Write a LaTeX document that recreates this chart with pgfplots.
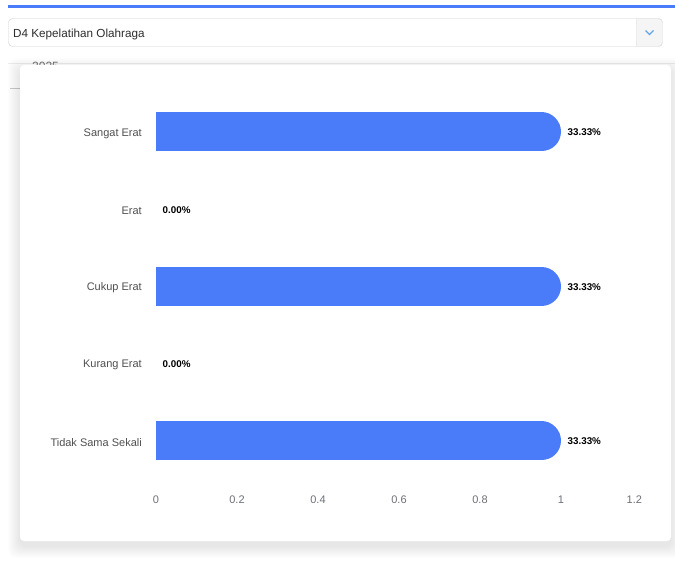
\documentclass[border=0pt]{standalone}
\usepackage{pgfplots}
\pgfplotsset{compat=1.18}
\usepackage{fontspec}
\setmainfont{Liberation Sans}

\definecolor{barblue}{HTML}{4A7CFA}
\definecolor{lblgray}{HTML}{505050}
\definecolor{tickgray}{HTML}{6E7079}
\definecolor{boxline}{HTML}{CFCFCF}
\definecolor{chev}{HTML}{62A8E5}

\begin{document}
\begin{tikzpicture}[x=1pt,y=1pt]
\useasboundingbox (0,0) rectangle (675,-567);
\fill[white] (0,0) rectangle (675,-567);

% top accent line and select box
\fill[barblue] (8,-5) rectangle (675,-8);
\begin{scope}
\clip[rounded corners=4pt] (8.5,-18.5) rectangle (662.5,-46.5);
\fill[black!4] (636,-18) rectangle (663,-47);
\end{scope}
\draw[boxline, rounded corners=4pt] (8.5,-18.5) rectangle (662.5,-46.5);
\draw[black!8] (636,-19) -- (636,-46);
\draw[chev, line width=1.3pt] (645.5,-30.5) -- (649.5,-34.5) -- (653.5,-30.5);
\node[anchor=west, inner sep=0pt, text=black!82,
  font=\fontsize{11.7}{14}\selectfont] at (13,-34) {D4 Kepelatihan Olahraga};

% panel behind the card
\draw[black!7] (8,-63) -- (675,-63);
\node[anchor=north west, inner sep=0pt, text=black!55,
  font=\fontsize{12}{14}\selectfont] at (32,-61.5) {2025};
\draw[black!20] (10,-88) -- (20,-88);

% card with soft shadow
\foreach \i in {1,...,12}{
  \fill[black, opacity=0.008, rounded corners=8pt]
    (20-\i,-70+\i) rectangle (671+\i,-546-\i);
}
\fill[white, rounded corners=4pt] (20,-65) rectangle (671,-541);

\begin{axis}[
  at={(156pt,-479.6pt)}, anchor=south west,
  scale only axis, width=486pt, height=386.25pt,
  xmin=0, xmax=1.2, ymin=-0.5, ymax=4.5,
  axis line style={draw=none},
  major tick length=0pt,
  xtick={0,0.2,0.4,0.6,0.8,1,1.2},
  xticklabels={0,0.2,0.4,0.6,0.8,1,\llap{1.2}},
  ytick={0,1,2,3,4},
  yticklabels={Tidak Sama Sekali,Kurang Erat,Cukup Erat,Erat,Sangat Erat},
  xticklabel style={font=\fontsize{11}{13}\selectfont, text=tickgray,
    anchor=north, inner sep=0pt, yshift=-16.5pt},
  yticklabel style={font=\fontsize{11}{13}\selectfont, text=lblgray,
    anchor=east, inner sep=0pt, xshift=-14pt, yshift=-1.5pt},
]
% bars (round end on the value side)
\addplot[barblue, line width=39pt, line cap=round, shorten >=19.5pt]
  coordinates {(0,4) (1,4)};
\addplot[barblue, line width=39pt, line cap=round, shorten >=19.5pt]
  coordinates {(0,2) (1,2)};
\addplot[barblue, line width=39pt, line cap=round, shorten >=19.5pt]
  coordinates {(0,0) (1,0)};

% value labels
\addplot[draw=none, mark=none, nodes near coords, point meta=explicit symbolic,
  every node near coord/.append style={anchor=west, inner sep=0pt, xshift=6.5pt,
    yshift=-0.5pt, text=black, font=\bfseries\fontsize{9.8}{11}\selectfont}]
  coordinates {(1,4) [33.33\%] (0,3) [0.00\%] (1,2) [33.33\%] (0,1) [0.00\%] (1,0) [33.33\%]};
\end{axis}
\end{tikzpicture}
\end{document}
